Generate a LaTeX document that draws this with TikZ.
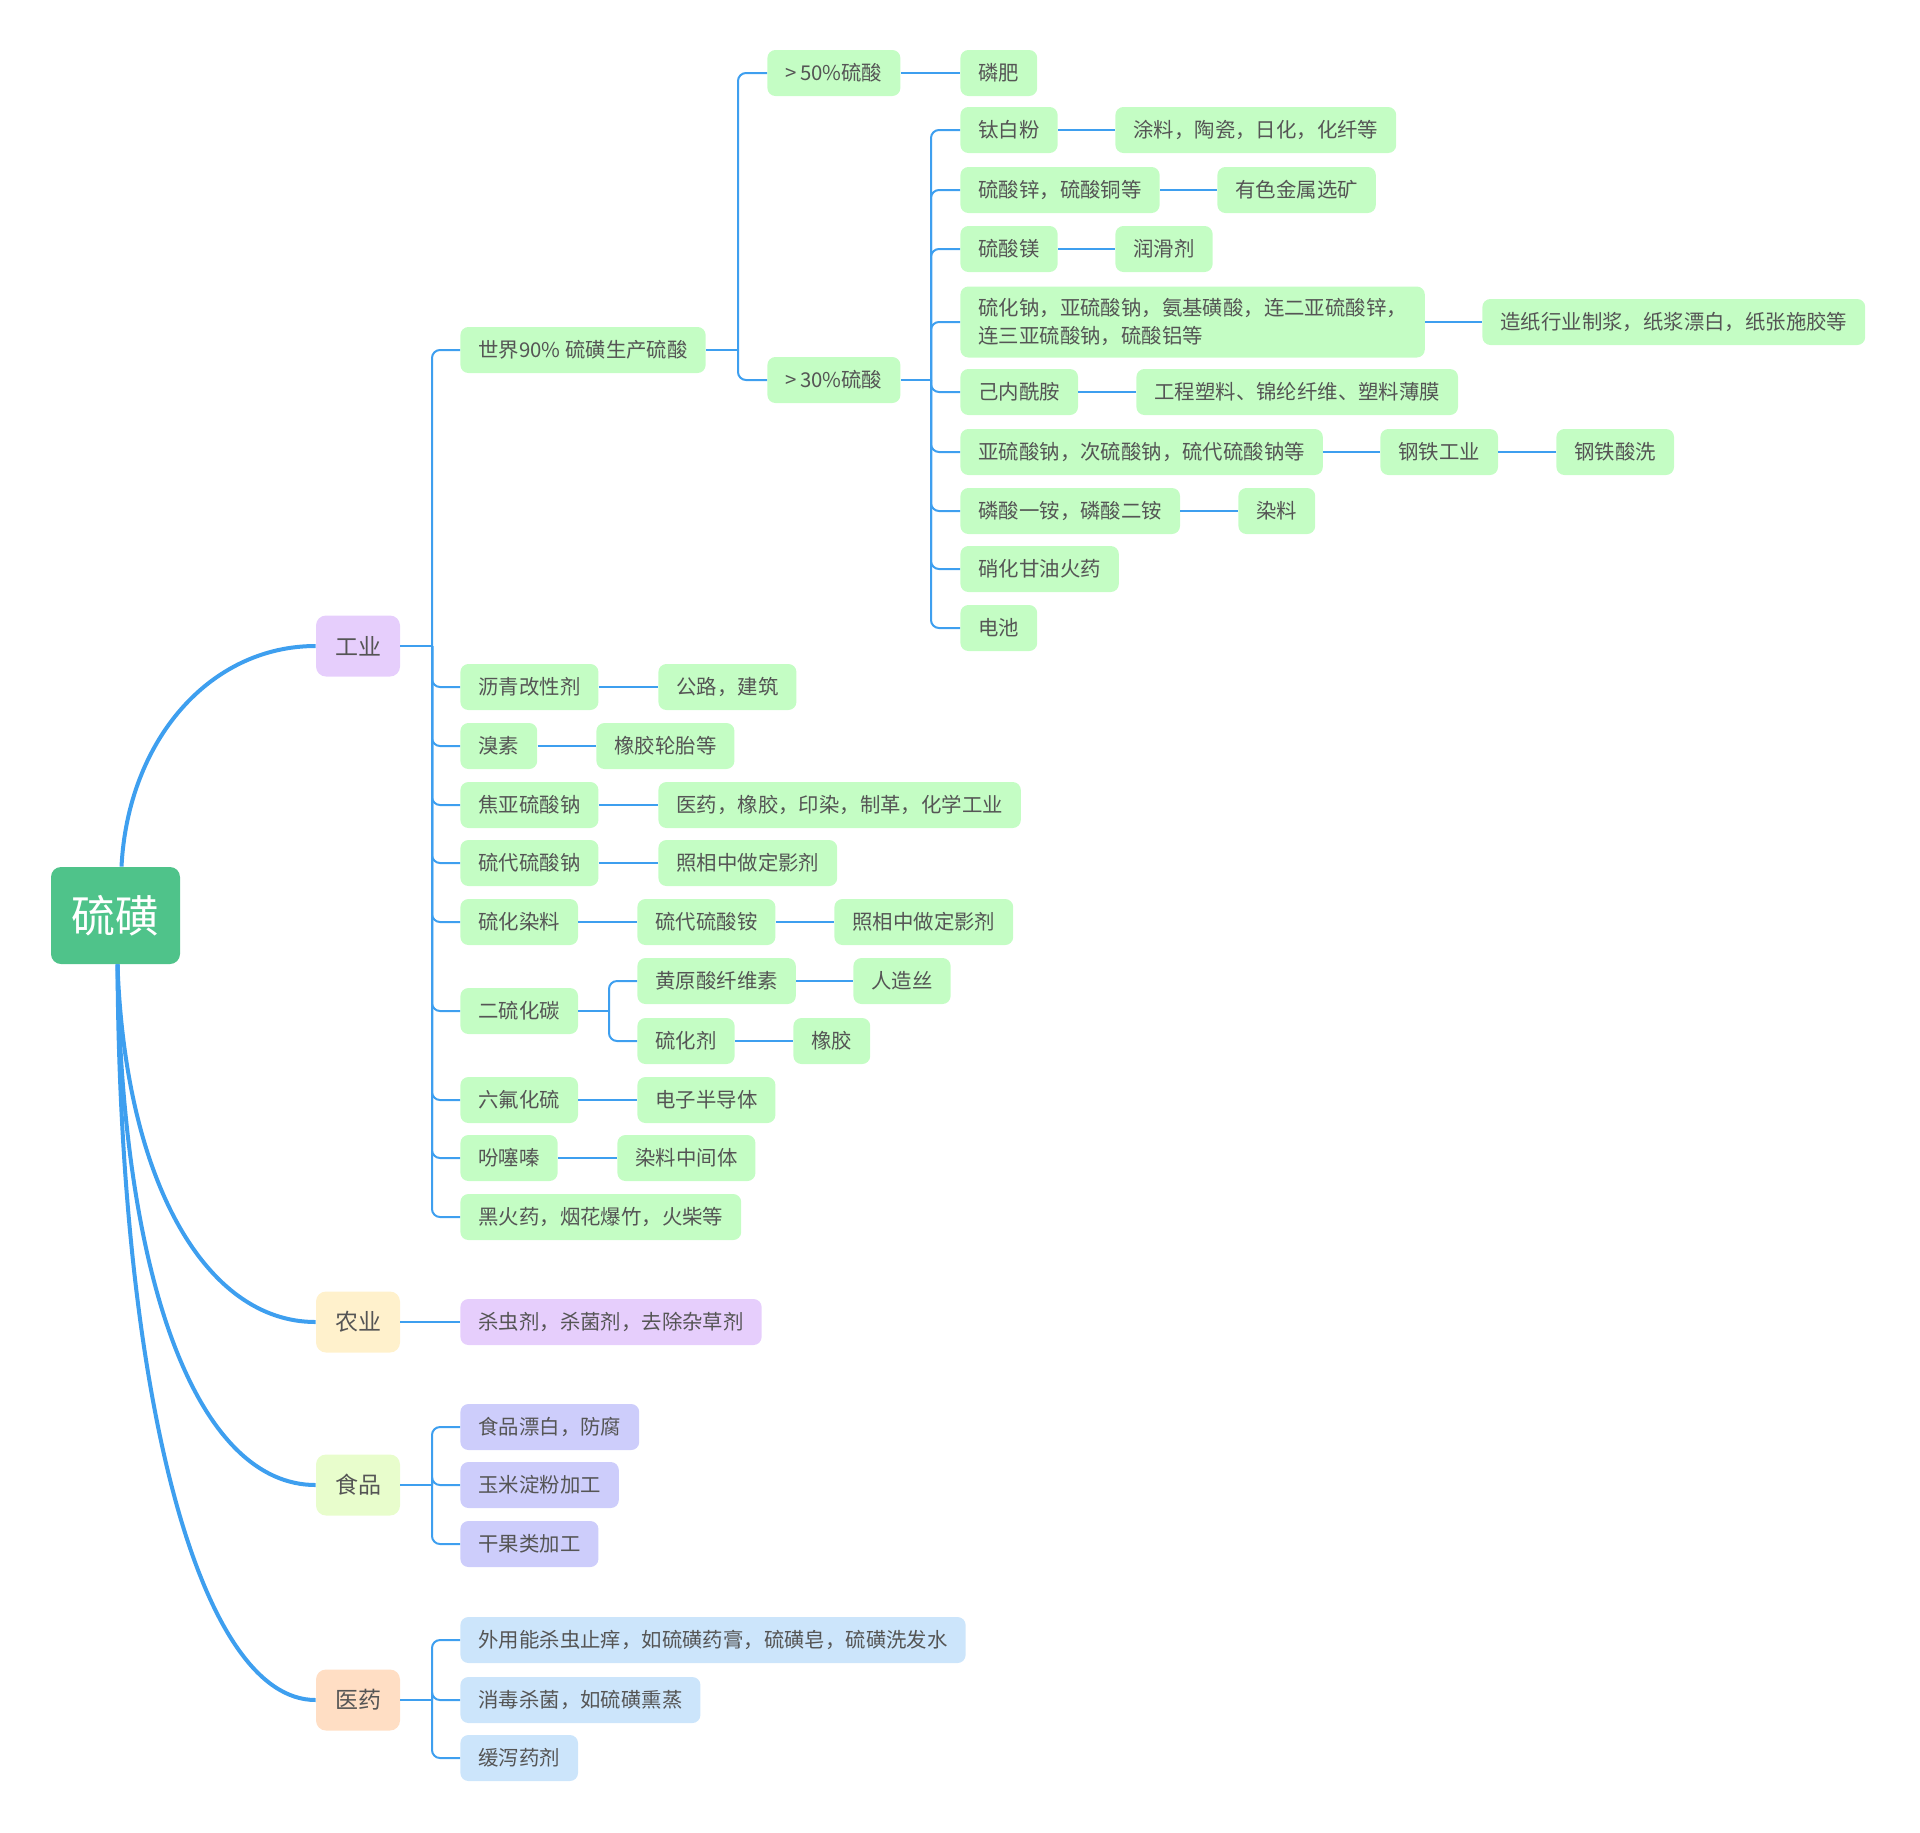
\documentclass[tikz,border=0pt]{standalone}
\usepackage{fontspec}
\newfontfamily\cjk{Noto Sans CJK SC}
\definecolor{txt}{HTML}{555555}
\definecolor{lc}{HTML}{3E9FEF}
\definecolor{gfill}{HTML}{C4FDC4}
\definecolor{rootc}{HTML}{4FC38A}
\definecolor{purp}{HTML}{E6CEFC}
\definecolor{peri}{HTML}{CDCDFB}
\definecolor{lblue}{HTML}{CCE5FB}
\definecolor{cgy}{HTML}{E6CEFC}
\definecolor{cny}{HTML}{FFF1CC}
\definecolor{csp}{HTML}{E8FDCC}
\definecolor{cyy}{HTML}{FFDEC4}
\begin{document}
\begin{tikzpicture}[x=0.5pt,y=-0.5pt]
\tikzset{
 box/.style={anchor=west, rounded corners=4pt, inner xsep=9pt, inner ysep=0pt, minimum height=23pt, font=\cjk\fontsize{10.2}{14}\selectfont, text=txt},
 gbox/.style={box, fill=gfill},
 abox/.style={box, fill=purp},
 fbox/.style={box, fill=peri},
 mbox/.style={box, fill=lblue},
 lvone/.style={minimum width=42pt, minimum height=30.5pt, rounded corners=5pt, inner sep=0pt, font=\cjk\fontsize{11.5}{14}\selectfont, text=txt},
 tl/.style={draw=lc, line width=1pt},
 tr/.style={draw=lc, line width=1pt, rounded corners=4pt},
 mainc/.style={draw=lc, line width=2pt},
}
\path[use as bounding box] (0,0) rectangle (1920,1832);

% root
\node[fill=rootc, rounded corners=5pt, minimum width=64.5pt, minimum height=48.5pt, inner sep=0pt, font=\cjk\fontsize{22}{26}\selectfont, text=white] (root) at (115.5,915.5) {硫磺};

% level 1
\node[lvone, fill=cgy] (gy) at (358,646) {工业};
\node[lvone, fill=cny] (ny) at (358,1322) {农业};
\node[lvone, fill=csp] (sp) at (358,1485) {食品};
\node[lvone, fill=cyy] (yy) at (358,1700) {医药};

\draw[mainc] ([xshift=3pt]root.north) .. controls (128,740) and (210,646) .. (gy.west);
\draw[mainc] ([xshift=1pt]root.south) .. controls (125,1180) and (205,1322) .. (ny.west);
\draw[mainc] ([xshift=1pt]root.south) .. controls (122,1290) and (200,1485) .. (sp.west);
\draw[mainc] ([xshift=1pt]root.south) .. controls (120,1400) and (200,1700) .. (yy.west);

% industry children
\node[gbox] (a1) at (460,350) {世界90\% 硫磺生产硫酸};
\node[gbox] (a2) at (460,687) {沥青改性剂};
\node[gbox] (a3) at (460,746) {溴素};
\node[gbox] (a4) at (460,805) {焦亚硫酸钠};
\node[gbox] (a5) at (460,863) {硫代硫酸钠};
\node[gbox] (a6) at (460,922) {硫化染料};
\node[gbox] (a7) at (460,1011) {二硫化碳};
\node[gbox] (a8) at (460,1100) {六氟化硫};
\node[gbox] (a9) at (460,1158) {吩噻嗪};
\node[gbox] (a10) at (460,1217) {黑火药，烟花爆竹，火柴等};

\coordinate (jg) at (432,646);
\draw[tl] (gy.east) -- (jg);
\foreach \n in {a1,a2,a3,a4,a5,a6,a7,a8,a9,a10} \draw[tr] (jg) |- (\n.west);

\node[gbox] (b2) at (658,687) {公路，建筑};
\node[gbox] (b3) at (596,746) {橡胶轮胎等};
\node[gbox] (b4) at (658,805) {医药，橡胶，印染，制革，化学工业};
\node[gbox] (b5) at (658,863) {照相中做定影剂};
\node[gbox] (b6) at (637,922) {硫代硫酸铵};
\node[gbox] (b6b) at (834,922) {照相中做定影剂};
\node[gbox] (b7a) at (637,981) {黄原酸纤维素};
\node[gbox] (b7aa) at (853,981) {人造丝};
\node[gbox] (b7b) at (637,1041) {硫化剂};
\node[gbox] (b7bb) at (793,1041) {橡胶};
\node[gbox] (b8) at (637,1100) {电子半导体};
\node[gbox] (b9) at (617,1158) {染料中间体};

\draw[tl] (a2.east) -- (b2.west);
\draw[tl] (a3.east) -- (b3.west);
\draw[tl] (a4.east) -- (b4.west);
\draw[tl] (a5.east) -- (b5.west);
\draw[tl] (a6.east) -- (b6.west);
\draw[tl] (b6.east) -- (b6b.west);
\coordinate (j7) at (609,1011);
\draw[tl] (a7.east) -- (j7);
\draw[tr] (j7) |- (b7a.west);
\draw[tr] (j7) |- (b7b.west);
\draw[tl] (b7a.east) -- (b7aa.west);
\draw[tl] (b7b.east) -- (b7bb.west);
\draw[tl] (a8.east) -- (b8.west);
\draw[tl] (a9.east) -- (b9.west);

% sulfuric acid
\node[gbox] (c1) at (767,73) {>\,50\%硫酸};
\node[gbox] (c2) at (767,380) {>\,30\%硫酸};
\node[gbox] (c1a) at (960,73) {磷肥};
\coordinate (j1) at (738,350);
\draw[tl] (a1.east) -- (j1);
\draw[tr] (j1) |- (c1.west);
\draw[tr] (j1) |- (c2.west);
\draw[tl] (c1.east) -- (c1a.west);

\node[gbox] (d1) at (960,130) {钛白粉};
\node[gbox] (d2) at (960,190) {硫酸锌，硫酸铜等};
\node[gbox] (d3) at (960,249) {硫酸镁};
\node[gbox, align=left, minimum height=35.5pt] (d4) at (960,322) {硫化钠，亚硫酸钠，氨基磺酸，连二亚硫酸锌，\\连三亚硫酸钠，硫酸铝等};
\node[gbox] (d5) at (960,392) {己内酰胺};
\node[gbox] (d6) at (960,452) {亚硫酸钠，次硫酸钠，硫代硫酸钠等};
\node[gbox] (d7) at (960,511) {磷酸一铵，磷酸二铵};
\node[gbox] (d8) at (960,569) {硝化甘油火药};
\node[gbox] (d9) at (960,628) {电池};
\coordinate (j2) at (931,380);
\draw[tl] (c2.east) -- (j2);
\foreach \n in {d1,d2,d3,d4,d5,d6,d7,d8,d9} \draw[tr] (j2) |- (\n.west);

\node[gbox] (e1) at (1115,130) {涂料，陶瓷，日化，化纤等};
\node[gbox] (e2) at (1217,190) {有色金属选矿};
\node[gbox] (e3) at (1115,249) {润滑剂};
\node[gbox] (e4) at (1482,322) {造纸行业制浆，纸浆漂白，纸张施胶等};
\node[gbox] (e5) at (1136,392) {工程塑料、锦纶纤维、塑料薄膜};
\node[gbox] (e6) at (1380,452) {钢铁工业};
\node[gbox] (e6b) at (1556,452) {钢铁酸洗};
\node[gbox] (e7) at (1238,511) {染料};
\draw[tl] (d1.east) -- (e1.west);
\draw[tl] (d2.east) -- (e2.west);
\draw[tl] (d3.east) -- (e3.west);
\draw[tl] (d4.east) -- (e4.west);
\draw[tl] (d5.east) -- (e5.west);
\draw[tl] (d6.east) -- (e6.west);
\draw[tl] (e6.east) -- (e6b.west);
\draw[tl] (d7.east) -- (e7.west);

% agriculture
\node[abox] (n1) at (460,1322) {杀虫剂，杀菌剂，去除杂草剂};
\draw[tl] (ny.east) -- (n1.west);

% food
\node[fbox] (s1) at (460,1427) {食品漂白，防腐};
\node[fbox] (s2) at (460,1485) {玉米淀粉加工};
\node[fbox] (s3) at (460,1544) {干果类加工};
\coordinate (js) at (432,1485);
\draw[tl] (sp.east) -- (js);
\foreach \n in {s1,s2,s3} \draw[tr] (js) |- (\n.west);

% medicine
\node[mbox] (m1) at (460,1640) {外用能杀虫止痒，如硫磺药膏，硫磺皂，硫磺洗发水};
\node[mbox] (m2) at (460,1700) {消毒杀菌，如硫磺熏蒸};
\node[mbox] (m3) at (460,1758) {缓泻药剂};
\coordinate (jm) at (432,1700);
\draw[tl] (yy.east) -- (jm);
\foreach \n in {m1,m2,m3} \draw[tr] (jm) |- (\n.west);
\end{tikzpicture}
\end{document}
